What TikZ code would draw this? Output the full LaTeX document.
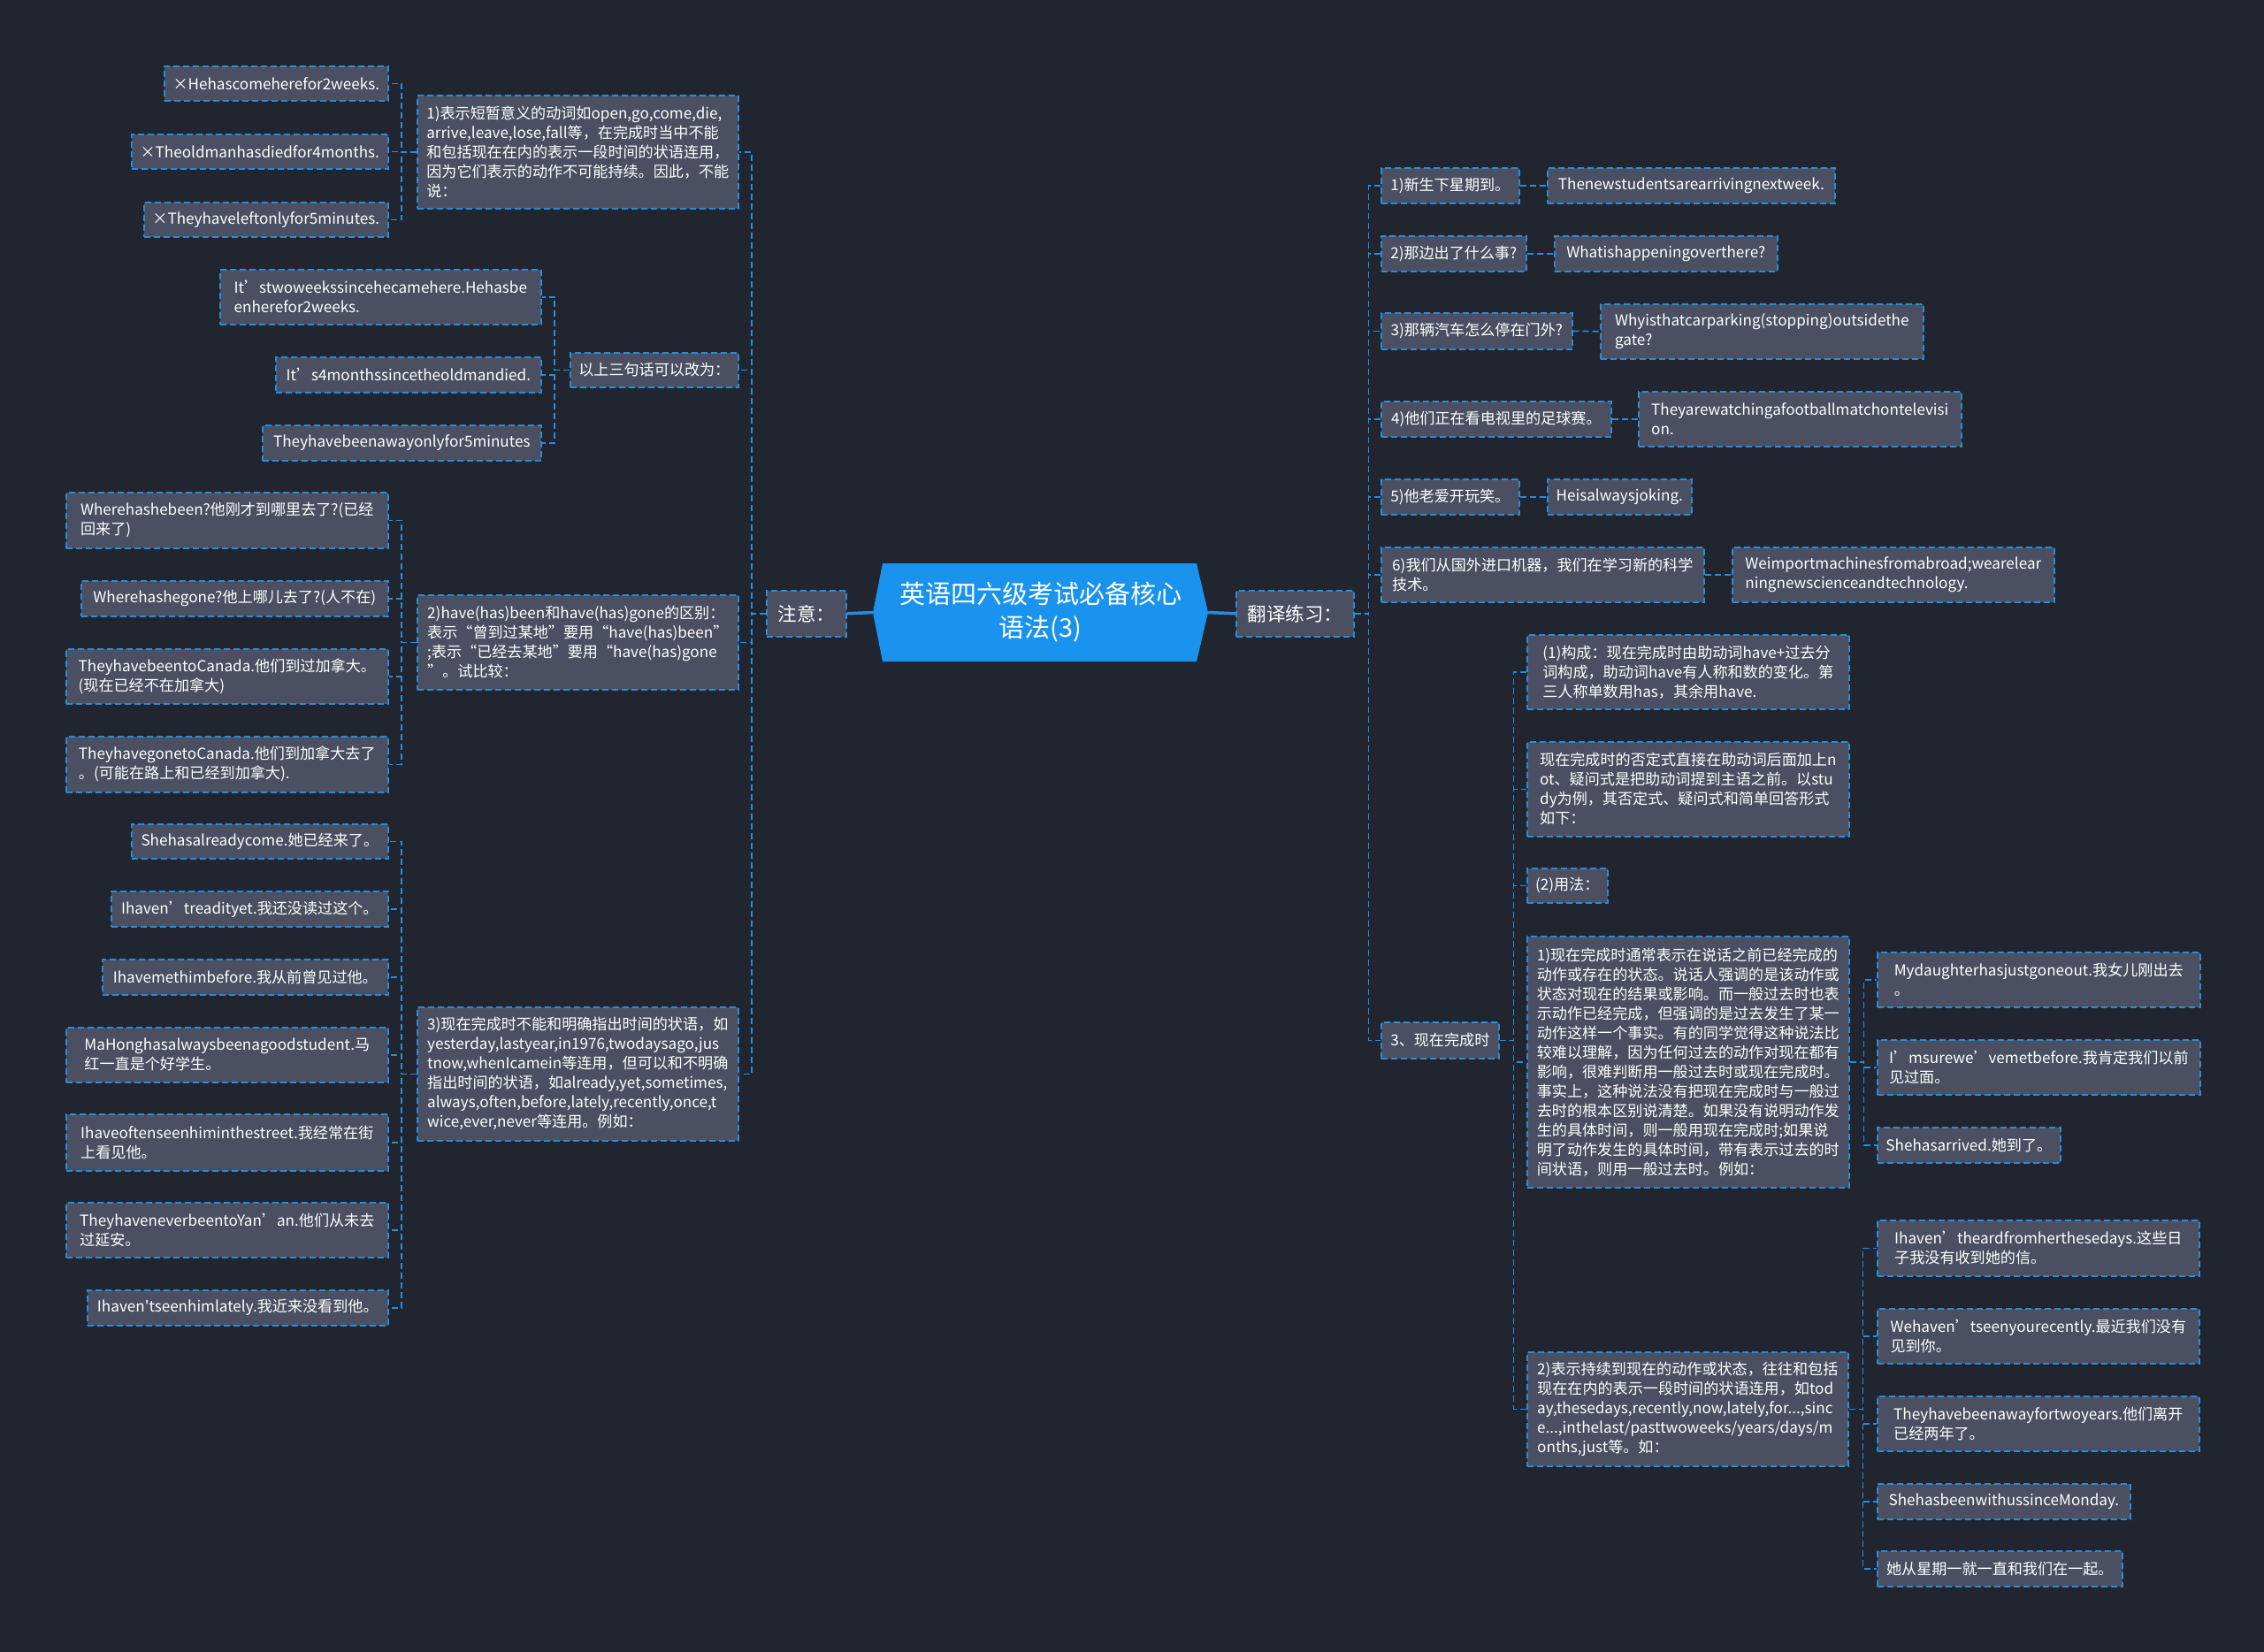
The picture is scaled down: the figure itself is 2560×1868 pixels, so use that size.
\documentclass[tikz,border=0pt]{standalone}
\usepackage{fontspec}
\newfontfamily\cjkf{Noto Sans CJK SC}
\usetikzlibrary{calc}
\definecolor{bg}{HTML}{212530}
\definecolor{nodefill}{HTML}{4A5061}
\definecolor{edge}{HTML}{2A8BD6}
\definecolor{rootfill}{HTML}{1A93EE}
\tikzset{
 box/.style={draw=edge, fill=nodefill, line width=1.6pt, dash pattern=on 7pt off 4pt, text=white,
   font=\cjkf\fontsize{17.1}{22}\selectfont, align=left, inner xsep=9pt, inner ysep=6pt, anchor=north west},
 bigbox/.style={box, font=\cjkf\fontsize{21.5}{26}\selectfont},
 link/.style={draw=edge, line width=1.6pt, dash pattern=on 7pt off 4pt},
 mainlink/.style={draw=edge, line width=3.5pt},
}
\newcommand\bx[6]{\node[box, minimum width={#4-#2}, minimum height={#5-#3}] (#1) at (#2,#3) {#6};}
\begin{document}
\begin{tikzpicture}[x=1pt,y=-1pt]
\useasboundingbox (0,0) rectangle (2560,1868);
\fill[bg] (0,0) rectangle (2560,1868);

% root
\fill[rootfill] (987,692.5) -- (998,637) -- (1353,637) -- (1366,692.5) -- (1353,748) -- (998,748) -- cycle;
\node[minimum width=379, minimum height=111, inner sep=0, text=white, align=center,
  font=\cjkf\fontsize{29}{38}\selectfont] (root) at (1176.5,692.5) {英语四六级考试必备核心\\语法(3)};

\node[bigbox, minimum width=90, minimum height=52] (zhuyi) at (866,667) {注意：};
\node[bigbox, minimum width=133, minimum height=52] (fanyi) at (1397,667) {翻译练习：};

% left side
\bx{B1}{471}{107}{834}{235}{1)表示短暂意义的动词如open,go,come,die,\\arrive,leave,lose,fall等，在完成时当中不能\\和包括现在在内的表示一段时间的状语连用，\\因为它们表示的动作不可能持续。因此，不能\\说：}
\bx{L1a}{185}{74}{438}{113}{×Hehascomeherefor2weeks.}
\bx{L1b}{148}{151}{438}{190}{×Theoldmanhasdiedfor4months.}
\bx{L1c}{162}{228}{438}{267}{×Theyhaveleftonlyfor5minutes.}

\bx{B2}{644}{398}{834}{437}{以上三句话可以改为：}
\bx{L2a}{248}{304}{611}{366}{It’stwoweekssincehecamehere.Hehasbe\\enherefor2weeks.}
\bx{L2b}{311}{403}{611}{443}{It’s4monthssincetheoldmandied.}
\bx{L2c}{296}{480}{611}{520}{Theyhavebeenawayonlyfor5minutes}

\bx{B3}{471}{672}{834}{779}{2)have(has)been和have(has)gone的区别：\\表示“曾到过某地”要用“have(has)been”\\;表示“已经去某地”要用“have(has)gone\\”。试比较：}
\bx{L3a}{74}{556}{438}{619}{Wherehashebeen?他刚才到哪里去了?(已经\\回来了)}
\bx{L3b}{91}{656}{438}{696}{Wherehashegone?他上哪儿去了?(人不在)}
\bx{L3c}{74}{733}{438}{795}{TheyhavebeentoCanada.他们到过加拿大。\\(现在已经不在加拿大)}
\bx{L3d}{74}{832}{438}{895}{TheyhavegonetoCanada.他们到加拿大去了\\。(可能在路上和已经到加拿大).}

\bx{B4}{471}{1138}{834}{1289}{3)现在完成时不能和明确指出时间的状语，如\\yesterday,lastyear,in1976,twodaysago,jus\\tnow,whenIcamein等连用，但可以和不明确\\指出时间的状语，如already,yet,sometimes,\\always,often,before,lately,recently,once,t\\wice,ever,never等连用。例如：}
\bx{L4a}{148}{931}{438}{970}{Shehasalreadycome.她已经来了。}
\bx{L4b}{125}{1007}{438}{1047}{Ihaven’treadityet.我还没读过这个。}
\bx{L4c}{115}{1084}{438}{1124}{Ihavemethimbefore.我从前曾见过他。}
\bx{L4d}{74}{1161}{438}{1223}{MaHonghasalwaysbeenagoodstudent.马\\红一直是个好学生。}
\bx{L4e}{74}{1259}{438}{1323}{Ihaveoftenseenhiminthestreet.我经常在街\\上看见他。}
\bx{L4f}{74}{1359}{438}{1421}{TheyhaveneverbeentoYan’an.他们从未去\\过延安。}
\bx{L4g}{98}{1458}{438}{1498}{Ihaven'tseenhimlately.我近来没看到他。}

% right side
\bx{R1}{1561}{189}{1717}{229}{1)新生下星期到。}
\bx{R1e}{1749}{189}{2074}{229}{Thenewstudentsarearrivingnextweek.}
\bx{R2}{1561}{266}{1725}{306}{2)那边出了什么事?}
\bx{R2e}{1757}{266}{2009}{306}{Whatishappeningoverthere?}
\bx{R3}{1561}{353}{1777}{394}{3)那辆汽车怎么停在门外?}
\bx{R3e}{1809}{343}{2174}{405}{Whyisthatcarparking(stopping)outsidethe\\gate?}
\bx{R4}{1561}{453}{1821}{493}{4)他们正在看电视里的足球赛。}
\bx{R4e}{1852}{442}{2217}{504}{Theyarewatchingafootballmatchontelevisi\\on.}
\bx{R5}{1561}{541}{1717}{581}{5)他老爱开玩笑。}
\bx{R5e}{1749}{541}{1912}{581}{Heisalwaysjoking.}
\bx{R6}{1561}{618}{1926}{680}{6)我们从国外进口机器，我们在学习新的科学\\技术。}
\bx{R6e}{1958}{618}{2322}{680}{Weimportmachinesfromabroad;wearelear\\ningnewscienceandtechnology.}

\bx{R7}{1561}{1155}{1694}{1196}{3、现在完成时}
\bx{C1}{1726}{717}{2090}{801}{(1)构成：现在完成时由助动词have+过去分\\词构成，助动词have有人称和数的变化。第\\三人称单数用has，其余用have.}
\bx{C2}{1726}{838}{2090}{945}{现在完成时的否定式直接在助动词后面加上n\\ot、疑问式是把助动词提到主语之前。以stu\\dy为例，其否定式、疑问式和简单回答形式\\如下：}
\bx{C3}{1726}{981}{1817}{1020}{(2)用法：}
\bx{C4}{1726}{1058}{2090}{1342}{1)现在完成时通常表示在说话之前已经完成的\\动作或存在的状态。说话人强调的是该动作或\\状态对现在的结果或影响。而一般过去时也表\\示动作已经完成，但强调的是过去发生了某一\\动作这样一个事实。有的同学觉得这种说法比\\较难以理解，因为任何过去的动作对现在都有\\影响，很难判断用一般过去时或现在完成时。\\事实上，这种说法没有把现在完成时与一般过\\去时的根本区别说清楚。如果没有说明动作发\\生的具体时间，则一般用现在完成时;如果说\\明了动作发生的具体时间，带有表示过去的时\\间状语，则用一般过去时。例如：}
\bx{C4a}{2122}{1076}{2487}{1138}{Mydaughterhasjustgoneout.我女儿刚出去\\。}
\bx{C4b}{2122}{1175}{2487}{1237}{I’msurewe’vemetbefore.我肯定我们以前\\见过面。}
\bx{C4c}{2122}{1274}{2329}{1314}{Shehasarrived.她到了。}
\bx{C5}{1726}{1528}{2089}{1657}{2)表示持续到现在的动作或状态，往往和包括\\现在在内的表示一段时间的状语连用，如tod\\ay,thesedays,recently,now,lately,for...,sinc\\e...,inthelast/pasttwoweeks/years/days/m\\onths,just等。如：}
\bx{C5a}{2122}{1379}{2486}{1442}{Ihaven’theardfromherthesedays.这些日\\子我没有收到她的信。}
\bx{C5b}{2122}{1479}{2486}{1541}{Wehaven’tseenyourecently.最近我们没有\\见到你。}
\bx{C5c}{2122}{1578}{2486}{1640}{Theyhavebeenawayfortwoyears.他们离开\\已经两年了。}
\bx{C5d}{2122}{1677}{2408}{1717}{ShehasbeenwithussinceMonday.}
\bx{C5e}{2122}{1753}{2399}{1793}{她从星期一就一直和我们在一起。}

% main links
\draw[mainlink] (root.west) -- (zhuyi.east);
\draw[mainlink] (root.east) -- (fanyi.west);

% left links
\foreach \c in {B1,B2,B3,B4} \draw[link] (zhuyi.west) -- ++(-16,0) |- (\c.east);
\foreach \c in {L1a,L1b,L1c} \draw[link] (B1.west) -- ++(-17,0) |- (\c.east);
\foreach \c in {L2a,L2b,L2c} \draw[link] (B2.west) -- ++(-17,0) |- (\c.east);
\foreach \c in {L3a,L3b,L3c,L3d} \draw[link] (B3.west) -- ++(-17,0) |- (\c.east);
\foreach \c in {L4a,L4b,L4c,L4d,L4e,L4f,L4g} \draw[link] (B4.west) -- ++(-17,0) |- (\c.east);

% right links
\foreach \c in {R1,R2,R3,R4,R5,R6,R7} \draw[link] (fanyi.east) -- ++(16,0) |- (\c.west);
\draw[link] (R1.east) -- (R1e.west);
\draw[link] (R2.east) -- (R2e.west);
\draw[link] (R3.east) -- (R3e.west);
\draw[link] (R4.east) -- (R4e.west);
\draw[link] (R5.east) -- (R5e.west);
\draw[link] (R6.east) -- (R6e.west);
\foreach \c in {C1,C2,C3,C4,C5} \draw[link] (R7.east) -- ++(16,0) |- (\c.west);
\foreach \c in {C4a,C4b,C4c} \draw[link] (C4.east) -- ++(16,0) |- (\c.west);
\foreach \c in {C5a,C5b,C5c,C5d,C5e} \draw[link] (C5.east) -- ++(16,0) |- (\c.west);
\end{tikzpicture}
\end{document}
